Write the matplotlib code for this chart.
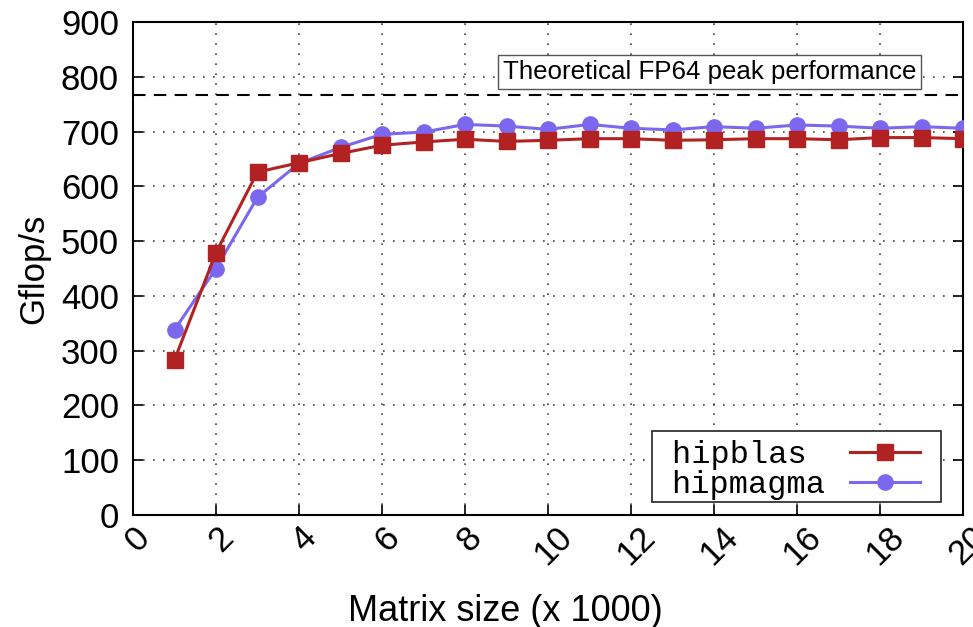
import matplotlib
matplotlib.use("Agg")
import matplotlib.pyplot as plt
from matplotlib.transforms import ScaledTranslation
from matplotlib.patches import Rectangle

matrix_size = [1, 2, 3, 4, 5, 6, 7, 8, 9, 10, 11, 12, 13, 14, 15, 16, 17, 18, 19, 20]
hipblas = [283, 479, 626, 643, 660, 675, 681, 686, 682, 684, 687, 687, 684, 685, 687, 687, 685, 689, 689, 687]
hipmagma = [338, 450, 580, 642, 671, 695, 699, 713, 710, 704, 713, 706, 703, 709, 706, 712, 710, 706, 709, 706]
peak = 766
xticks = list(range(0, 21, 2))
yticks = list(range(0, 901, 100))

plt.rcParams['font.family'] = ['Liberation Sans', 'DejaVu Sans']

fig = plt.figure(figsize=(9.73, 6.27), dpi=100)
ax = fig.add_axes([133/973, 1-515/627, 830/973, 493/627])

ax.plot(matrix_size, hipblas, color='#B22222', marker='s', markersize=11, lw=2.2,
        label='hipblas ', zorder=4)
ax.plot(matrix_size, hipmagma, color='#7B68EE', marker='o', markersize=11, lw=2.2,
        label='hipmagma', zorder=3)
ax.axhline(peak, color='black', lw=1.5, linestyle=(0, (6, 4)), zorder=2)
ax.text(0.6946, 0.899, 'Theoretical FP64 peak performance', transform=ax.transAxes,
        ha='center', va='center', fontsize=18.6,
        bbox=dict(boxstyle='square,pad=0.2', fc='white', ec='#555555', lw=1), zorder=5)

ax.set_xlim(0, 20)
ax.set_ylim(0, 900)
ax.set_xticks(xticks)
ax.set_yticks(yticks)
ax.set_xticklabels([str(t) for t in xticks], rotation=45, ha='center', va='top', fontsize=25)
ax.set_yticklabels([str(t) for t in yticks], fontsize=25)
ax.tick_params(direction='in', length=7, width=1.2, top=False, right=True)
ax.tick_params(axis='y', pad=10)
ax.tick_params(axis='x', pad=4)
for lab in ax.get_xticklabels():
    lab.set_transform(lab.get_transform() + ScaledTranslation(0.05, 0, fig.dpi_scale_trans))
ax.grid(True, linestyle=(0, (1, 5)), color='#444444', lw=1.2)
for s in ax.spines.values():
    s.set_linewidth(1.5)

ax.set_ylabel('Gflop/s', fontsize=25, labelpad=8)
ax.set_xlabel('Matrix size (x 1000)', fontsize=26, x=0.449, labelpad=16)

# legend frame drawn separately, legend itself without frame
ax.add_patch(Rectangle((0.625, 0.0264), 0.349, 0.144, transform=ax.transAxes,
                       fc='white', ec='#222222', lw=1.2, zorder=6))
leg = ax.legend(loc='lower right', bbox_to_anchor=(0.948, 0.030), markerfirst=False,
                prop={'family': 'Liberation Mono', 'size': 23}, frameon=False,
                handlelength=2.2, borderpad=0.0, labelspacing=0.0,
                handletextpad=0.75, borderaxespad=0)
leg.set_zorder(7)

fig.savefig('out.png', dpi=100)
